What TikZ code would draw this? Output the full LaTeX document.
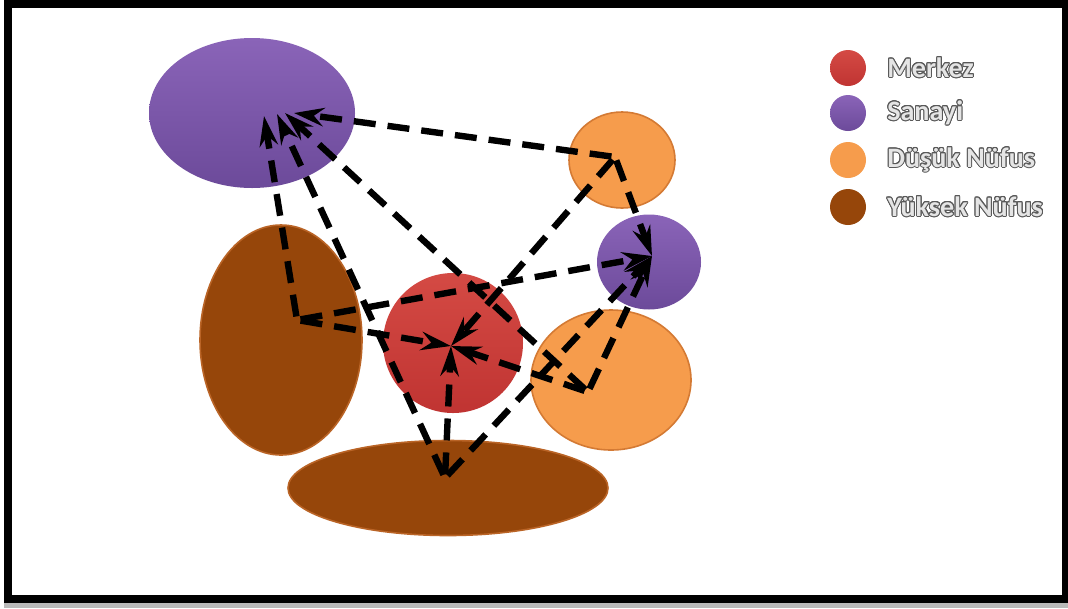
\documentclass[tikz,border=0pt]{standalone}
\usepackage{fontspec}
\setmainfont{Carlito}
\usepackage{contour}
\contourlength{0.7pt}
\usetikzlibrary{shapes.geometric,arrows.meta}

\definecolor{merkezred}{RGB}{192,52,50}
\definecolor{merkeztop}{RGB}{212,74,68}
\definecolor{sanayipurple}{RGB}{108,74,154}
\definecolor{sanayitop}{RGB}{138,100,184}
\definecolor{dusukorange}{RGB}{246,156,76}
\definecolor{dusukedge}{RGB}{212,122,52}
\definecolor{yuksekbrown}{RGB}{150,70,10}
\definecolor{yuksekedge}{RGB}{186,100,38}

\tikzset{
  region/.style={ellipse, inner sep=0pt},
  merkez/.style={region, top color=merkeztop, bottom color=merkezred},
  sanayi/.style={region, top color=sanayitop, bottom color=sanayipurple},
  dusuk/.style={region, fill=dusukorange, draw=dusukedge, line width=0.4mm},
  yuksek/.style={region, fill=yuksekbrown, draw=yuksekedge, line width=0.4mm},
  link/.style={line width=1.6mm, dash pattern=on 5.5mm off 3mm, dash phase=7.6mm,
    -{Stealth[length=7.5mm, width=4.6mm, inset=2.5mm]}},
  keydot/.style={circle, minimum size=9mm, inner sep=0pt},
  keytext/.style={anchor=west, inner sep=0pt, font=\bfseries\fontsize{20}{24}\selectfont}
}
\newcommand{\keylabel}[1]{\contour{gray!70!black}{\textcolor{gray!20}{#1}}}

\begin{document}
\begin{tikzpicture}[x=0.25mm, y=-0.25mm]
\useasboundingbox (0,0) rectangle (1068,608);
\fill[white] (0,0) rectangle (1068,608);

% frame
\fill[gray!55] (4,603) rectangle (1068,608);
\draw[line width=2mm] (8,3.5) rectangle (1065.5,599);

% regions
\node[yuksek, minimum width=40.5mm, minimum height=57.5mm] (tall) at (281,340) {};
\node[yuksek, minimum width=80mm, minimum height=23.75mm] (wide) at (448,488) {};
\node[merkez, minimum width=35mm, minimum height=35mm] (center) at (453,343) {};
\node[dusuk, minimum width=40mm, minimum height=35mm] (lowright) at (611,380) {};
\node[dusuk, minimum width=26.5mm, minimum height=24mm] (lowtop) at (622,160) {};
\node[sanayi, minimum width=51.5mm, minimum height=37.5mm] (indleft) at (252,113) {};
\node[sanayi, minimum width=26mm, minimum height=23.75mm] (indright) at (649,262) {};

% start and end points
\coordinate (tallhub) at (297,320);
\coordinate (widehub) at (445,478);
\coordinate (lowtophub) at (615,157);
\coordinate (lowrighthub) at (588,392);
\coordinate (centertip) at (451,346);
\coordinate (indrighttip) at (652,256);
\coordinate (indtipA) at (264,116);
\coordinate (indtipB) at (277,114);
\coordinate (indtipC) at (285,113);
\coordinate (indtipD) at (294,113);

% flows
\draw[link] (lowtophub) -- (indtipD);
\draw[link] (lowtophub) -- (indrighttip);
\draw[link] (lowtophub) -- (centertip);
\draw[link] (tallhub) -- (indtipA);
\draw[link] (tallhub) -- (indrighttip);
\draw[link] (tallhub) -- (centertip);
\draw[link] (widehub) -- (indtipB);
\draw[link] (widehub) -- (centertip);
\draw[link] (widehub) -- (indrighttip);
\draw[link] (lowrighthub) -- (indtipC);
\draw[link] (lowrighthub) -- (centertip);
\draw[link] (lowrighthub) -- (indrighttip);

% legend
\node[keydot, top color=merkeztop, bottom color=merkezred] (k1) at (848,68) {};
\node[keydot, top color=sanayitop, bottom color=sanayipurple] (k2) at (848,113) {};
\node[keydot, fill=dusukorange] (k3) at (848,160) {};
\node[keydot, fill=yuksekbrown] (k4) at (848,207) {};
\node[keytext] (t1) at (887,68) {\keylabel{Merkez}};
\node[keytext] (t2) at (887,113) {\keylabel{Sanayi}};
\node[keytext] (t3) at (887,160) {\keylabel{Düşük Nüfus}};
\node[keytext] (t4) at (887,207) {\keylabel{Yüksek Nüfus}};
\end{tikzpicture}
\end{document}
